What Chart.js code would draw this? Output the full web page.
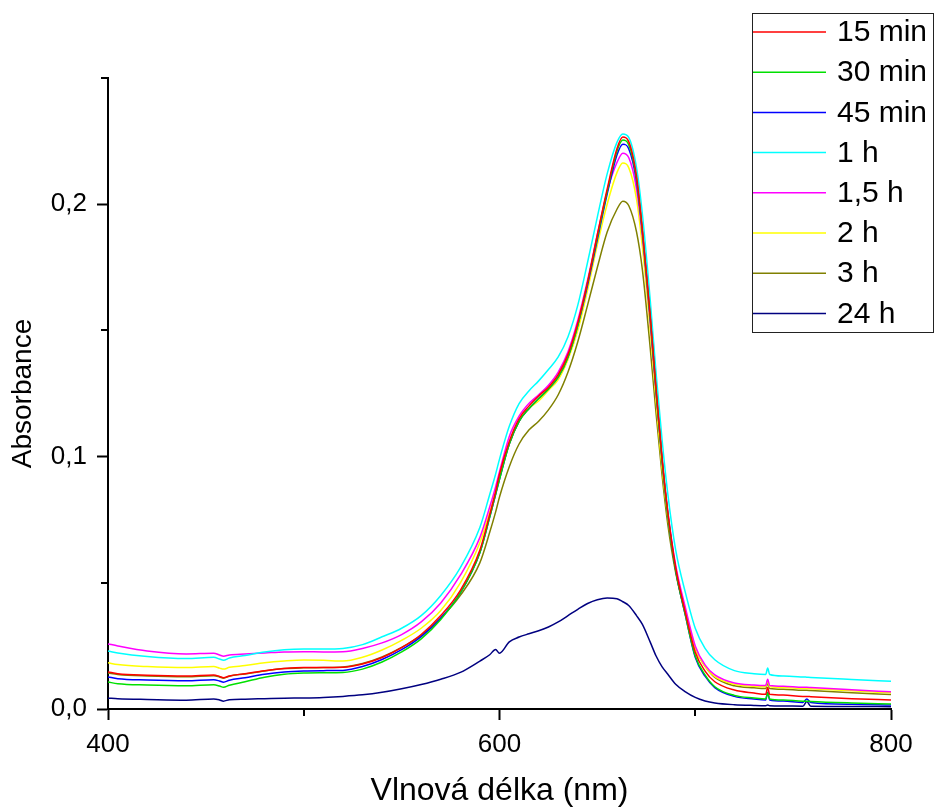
<!DOCTYPE html>
<html>
<head>
<meta charset="utf-8">
<script src="https://cdn.jsdelivr.net/npm/chart.js@4/dist/chart.umd.min.js"></script>
<style>
  html, body { margin: 0; padding: 0; background: #fff; }
  canvas { display: block; }
</style>
</head>
<body>
<canvas id="spectra" width="936" height="810"></canvas>
<script>
// wavelength grid (nm)
const wavelengths = [
  400, 405, 420, 440, 454, 457, 459, 462, 470, 480,
  490, 500, 510, 520, 530, 540, 550, 560, 570, 580,
  590, 595, 598, 600, 605, 610, 615, 620, 625, 630,
  635, 640, 645, 650, 655, 660, 663, 666, 670, 673,
  677, 680, 683, 686, 690, 695, 700, 705, 710, 720,
  730, 736, 737, 738, 745, 755, 757, 759, 780, 800
];

const abs15min = [
  0.0147, 0.0140, 0.0134, 0.0131, 0.0135, 0.0129, 0.0124, 0.0131, 0.0140, 0.0152,
  0.0160, 0.0164, 0.0164, 0.0165, 0.0178, 0.0204, 0.0243, 0.0295, 0.0370, 0.0470,
  0.0630, 0.0770, 0.0860, 0.0930, 0.1060, 0.1150, 0.1200, 0.1240, 0.1275, 0.1325,
  0.1405, 0.1530, 0.1690, 0.1880, 0.2060, 0.2220, 0.2266, 0.2248, 0.2110, 0.1900,
  0.1560, 0.1270, 0.1000, 0.0780, 0.0560, 0.0380, 0.0225, 0.0150, 0.0108, 0.0075,
  0.0063, 0.0058, 0.0085, 0.0058, 0.0055, 0.0050, 0.0050, 0.0049, 0.0041, 0.0036
];
const abs30min = [
  0.0107, 0.0100, 0.0095, 0.0092, 0.0096, 0.0091, 0.0086, 0.0094, 0.0108, 0.0126,
  0.0138, 0.0143, 0.0144, 0.0145, 0.0158, 0.0186, 0.0226, 0.0278, 0.0355, 0.0460,
  0.0620, 0.0760, 0.0850, 0.0910, 0.1050, 0.1140, 0.1190, 0.1230, 0.1268, 0.1315,
  0.1395, 0.1520, 0.1690, 0.1870, 0.2050, 0.2210, 0.2254, 0.2236, 0.2100, 0.1890,
  0.1550, 0.1260, 0.0990, 0.0770, 0.0550, 0.0370, 0.0210, 0.0135, 0.0088, 0.0054,
  0.0044, 0.0040, 0.0064, 0.0040, 0.0036, 0.0031, 0.0031, 0.0030, 0.0024, 0.0020
];
const abs45min = [
  0.0127, 0.0120, 0.0115, 0.0112, 0.0116, 0.0111, 0.0106, 0.0114, 0.0124, 0.0138,
  0.0147, 0.0151, 0.0152, 0.0153, 0.0168, 0.0196, 0.0235, 0.0287, 0.0360, 0.0460,
  0.0620, 0.0760, 0.0850, 0.0910, 0.1050, 0.1140, 0.1190, 0.1230, 0.1268, 0.1315,
  0.1395, 0.1520, 0.1680, 0.1860, 0.2040, 0.2195, 0.2238, 0.2220, 0.2090, 0.1890,
  0.1550, 0.1260, 0.0990, 0.0770, 0.0550, 0.0370, 0.0205, 0.0130, 0.0085, 0.0050,
  0.0040, 0.0036, 0.0066, 0.0036, 0.0032, 0.0026, 0.0040, 0.0026, 0.0019, 0.0016
];
const abs1h = [
  0.0230, 0.0222, 0.0208, 0.0200, 0.0205, 0.0198, 0.0193, 0.0202, 0.0212, 0.0226,
  0.0235, 0.0238, 0.0238, 0.0240, 0.0255, 0.0286, 0.0320, 0.0370, 0.0450, 0.0560,
  0.0720, 0.0850, 0.0930, 0.0990, 0.1120, 0.1210, 0.1260, 0.1300, 0.1345, 0.1395,
  0.1475, 0.1600, 0.1770, 0.1950, 0.2120, 0.2245, 0.2278, 0.2265, 0.2145, 0.1960,
  0.1620, 0.1330, 0.1070, 0.0850, 0.0630, 0.0460, 0.0320, 0.0240, 0.0195, 0.0152,
  0.0140, 0.0137, 0.0162, 0.0137, 0.0131, 0.0127, 0.0126, 0.0125, 0.0117, 0.0110
];
const abs1_5h = [
  0.0258, 0.0250, 0.0230, 0.0218, 0.0221, 0.0214, 0.0209, 0.0214, 0.0218, 0.0222,
  0.0226, 0.0227, 0.0226, 0.0227, 0.0240, 0.0262, 0.0295, 0.0345, 0.0420, 0.0530,
  0.0680, 0.0800, 0.0880, 0.0940, 0.1080, 0.1160, 0.1210, 0.1245, 0.1283, 0.1335,
  0.1415, 0.1540, 0.1700, 0.1880, 0.2050, 0.2165, 0.2202, 0.2185, 0.2060, 0.1870,
  0.1530, 0.1250, 0.0990, 0.0780, 0.0570, 0.0400, 0.0250, 0.0175, 0.0135, 0.0103,
  0.0095, 0.0093, 0.0118, 0.0093, 0.0090, 0.0086, 0.0086, 0.0085, 0.0076, 0.0068
];
const abs2h = [
  0.0183, 0.0176, 0.0168, 0.0164, 0.0168, 0.0162, 0.0158, 0.0165, 0.0172, 0.0183,
  0.0190, 0.0194, 0.0193, 0.0190, 0.0205, 0.0234, 0.0272, 0.0320, 0.0390, 0.0500,
  0.0660, 0.0780, 0.0860, 0.0920, 0.1050, 0.1140, 0.1190, 0.1220, 0.1262, 0.1305,
  0.1385, 0.1500, 0.1660, 0.1840, 0.2000, 0.2125, 0.2163, 0.2145, 0.2020, 0.1830,
  0.1500, 0.1220, 0.0960, 0.0760, 0.0560, 0.0390, 0.0240, 0.0168, 0.0128, 0.0098,
  0.0090, 0.0088, 0.0112, 0.0088, 0.0085, 0.0081, 0.0081, 0.0080, 0.0072, 0.0064
];
const abs3h = [
  0.0143, 0.0137, 0.0131, 0.0128, 0.0132, 0.0127, 0.0122, 0.0130, 0.0139, 0.0151,
  0.0160, 0.0163, 0.0164, 0.0166, 0.0180, 0.0206, 0.0244, 0.0292, 0.0360, 0.0450,
  0.0580, 0.0700, 0.0780, 0.0840, 0.0960, 0.1050, 0.1105, 0.1140, 0.1185, 0.1245,
  0.1335, 0.1455, 0.1600, 0.1750, 0.1890, 0.1980, 0.2012, 0.1995, 0.1890, 0.1740,
  0.1430, 0.1170, 0.0930, 0.0730, 0.0540, 0.0380, 0.0240, 0.0170, 0.0125, 0.0092,
  0.0084, 0.0081, 0.0103, 0.0081, 0.0078, 0.0074, 0.0074, 0.0073, 0.0064, 0.0057
];
const abs24h = [
  0.0043, 0.0041, 0.0038, 0.0035, 0.0040, 0.0036, 0.0031, 0.0037, 0.0039, 0.0041,
  0.0043, 0.0044, 0.0046, 0.0050, 0.0056, 0.0066, 0.0080, 0.0097, 0.0118, 0.0145,
  0.0190, 0.0215, 0.0236, 0.0221, 0.0266, 0.0285, 0.0298, 0.0310, 0.0325, 0.0345,
  0.0370, 0.0395, 0.0418, 0.0433, 0.0440, 0.0437, 0.0425, 0.0410, 0.0370, 0.0335,
  0.0265, 0.0210, 0.0168, 0.0138, 0.0098, 0.0068, 0.0046, 0.0032, 0.0024, 0.0017,
  0.0014, 0.0013, 0.0016, 0.0013, 0.0012, 0.0011, 0.0030, 0.0011, 0.0010, 0.0009
];

const seriesLabels = ["15 min", "30 min", "45 min", "1 h", "1,5 h", "2 h", "3 h", "24 h"];
const seriesColors = ["#ff0000", "#00e000", "#0000ff", "#00ffff", "#ff00ff", "#ffff00", "#808000", "#000080"];
const seriesValues = [abs15min, abs30min, abs45min, abs1h, abs1_5h, abs2h, abs3h, abs24h];

const xTicks = [400, 600, 800];
const xMinorTicks = [500, 700];
const yTicks = [0, 0.1, 0.2];
const yMinorTicks = [0.05, 0.15, 0.25];

const FONT = "'Liberation Sans', Arial, Helvetica, sans-serif";

// short minor ticks between the labelled ones
const minorTicks = {
  id: "minorTicks",
  afterDraw(chart) {
    const { ctx, chartArea, scales } = chart;
    ctx.save();
    ctx.strokeStyle = "#000";
    ctx.lineWidth = 2;
    ctx.beginPath();
    xMinorTicks.forEach(v => {
      const x = Math.round(scales.x.getPixelForValue(v));
      ctx.moveTo(x, chartArea.bottom);
      ctx.lineTo(x, chartArea.bottom + 7);
    });
    yMinorTicks.forEach(v => {
      const y = Math.round(scales.y.getPixelForValue(v));
      ctx.moveTo(chartArea.left, y);
      ctx.lineTo(chartArea.left - 7, y);
    });
    ctx.stroke();
    ctx.restore();
  }
};

// boxed legend in the top-right corner
const boxLegend = {
  id: "boxLegend",
  afterDraw(chart) {
    const ctx = chart.ctx;
    const box = { x: 752, y: 13, w: 181, h: 319 };
    ctx.save();
    ctx.fillStyle = "#fff";
    ctx.fillRect(box.x, box.y, box.w, box.h);
    ctx.strokeStyle = "#222";
    ctx.lineWidth = 1;
    ctx.strokeRect(box.x + 0.5, box.y + 0.5, box.w, box.h);
    ctx.font = "30px " + FONT;
    ctx.textBaseline = "middle";
    ctx.fillStyle = "#000";
    chart.data.datasets.forEach((ds, i) => {
      const y = 32 + i * 40.2;
      ctx.strokeStyle = ds.borderColor;
      ctx.lineWidth = 1.5;
      ctx.beginPath();
      ctx.moveTo(box.x + 1, y);
      ctx.lineTo(826, y);
      ctx.stroke();
      ctx.fillText(ds.label, 837, y + 1);
    });
    ctx.restore();
  }
};

new Chart(document.getElementById("spectra"), {
  type: "line",
  data: {
    datasets: seriesLabels.map((label, i) => ({
      label,
      data: wavelengths.map((w, j) => ({ x: w, y: seriesValues[i][j] })),
      borderColor: seriesColors[i],
      borderWidth: 1.5,
      pointRadius: 0,
      cubicInterpolationMode: "monotone",
      fill: false,
    })),
  },
  options: {
    responsive: false,
    animation: false,
    layout: { padding: { top: 78, right: 45, left: 0, bottom: 0 } },
    plugins: { legend: { display: false }, tooltip: { enabled: false } },
    scales: {
      x: {
        type: "linear",
        min: 400, max: 800,
        afterFit: s => { s.height = 101; },
        afterBuildTicks: s => { s.ticks = xTicks.map(v => ({ value: v })); },
        ticks: { color: "#000", padding: 9, font: { family: FONT, size: 26 } },
        grid: { drawOnChartArea: false, drawTicks: true, tickLength: 11, tickColor: "#000", tickWidth: 2 },
        border: { display: true, color: "#000", width: 2 },
        title: {
          display: true, text: "Vlnová délka (nm)", color: "#000",
          font: { family: FONT, size: 32, lineHeight: 1.2 }, padding: { top: 0, bottom: 0 },
        },
      },
      y: {
        type: "linear",
        min: 0, max: 0.25,
        afterFit: s => { s.width = 108; },
        afterBuildTicks: s => { s.ticks = yTicks.map(v => ({ value: v })); },
        ticks: {
          color: "#000", padding: 10, font: { family: FONT, size: 26 },
          callback: v => v.toFixed(1).replace(".", ","),
        },
        grid: { drawOnChartArea: false, drawTicks: true, tickLength: 11, tickColor: "#000", tickWidth: 2 },
        border: { display: true, color: "#000", width: 2 },
        title: {
          display: true, text: "Absorbance", color: "#000",
          font: { family: FONT, size: 28, lineHeight: 1.2 }, padding: { top: 6, bottom: 0 },
        },
      },
    },
  },
  plugins: [minorTicks, boxLegend],
});
</script>
</body>
</html>
